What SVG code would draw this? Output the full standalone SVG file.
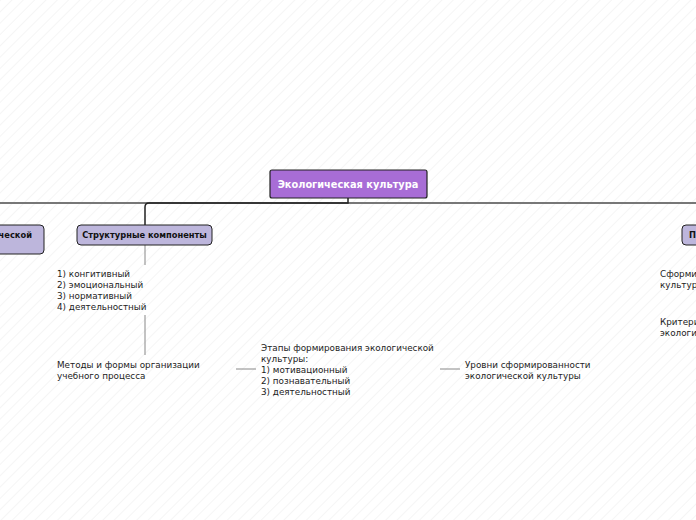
<svg xmlns="http://www.w3.org/2000/svg" width="696" height="520" viewBox="0 0 696 520">
<style>
.t{font-family:"DejaVu Sans",Verdana,sans-serif;font-size:8.8px;fill:#222}
.b{font-family:"DejaVu Sans",Verdana,sans-serif;font-size:8.3px;font-weight:bold;fill:#111}
.sub{fill:#bdb6dc;stroke:#222;stroke-width:1}
.c{stroke:#888;stroke-width:1;fill:none}
</style>
<defs>
<pattern id="h" width="8" height="8" patternUnits="userSpaceOnUse" patternTransform="rotate(45)">
<line x1="0" y1="0" x2="0" y2="8" stroke="#ececec" stroke-width="1"/>
</pattern>
</defs>
<rect width="696" height="520" fill="#fff"/>
<rect width="696" height="520" fill="url(#h)"/>
<g id="connectors">
<line x1="0" y1="203" x2="696" y2="203" stroke="#777" stroke-width="2"/>
<path d="M348 198 V203 H149 Q145 203 145 207 V225" stroke="#222" stroke-width="1.5" fill="none"/>
<line class="c" x1="145" y1="245" x2="145" y2="265"/>
<line class="c" x1="145" y1="315" x2="145" y2="355"/>
<line class="c" x1="236" y1="369" x2="256" y2="369"/>
<line class="c" x1="440" y1="369" x2="460" y2="369"/>
</g>
<g id="root">
<rect x="270" y="170" width="157" height="28" rx="2" fill="#a86dd6" stroke="#222" stroke-width="1.2"/>
<text x="348" y="188" text-anchor="middle" font-family="DejaVu Sans,Verdana,sans-serif" font-size="9.8" font-weight="bold" fill="#fff">Экологическая культура</text>
</g>
<g id="left"><rect class="sub" x="-20" y="225" width="64" height="29" rx="4"/><text class="b" x="32" y="238" text-anchor="end">ческой</text></g>
<g id="struct"><rect class="sub" x="77" y="225" width="135" height="20" rx="4"/><text class="b" x="144.5" y="238" text-anchor="middle">Структурные компоненты</text></g>
<g id="right"><rect class="sub" x="682" y="225" width="40" height="20" rx="4"/><text class="b" x="689" y="238">П</text></g>
<g id="comp"><text class="t" x="57" y="277"><tspan x="57">1) конгитивный</tspan><tspan x="57" dy="11">2) эмоциональный</tspan><tspan x="57" dy="11">3) нормативный</tspan><tspan x="57" dy="11">4) деятельностный</tspan></text></g>
<g id="methods"><text class="t" x="57" y="368"><tspan x="57">Методы и формы организации</tspan><tspan x="57" dy="11">учебного процесса</tspan></text></g>
<g id="stages"><text class="t" x="261" y="351"><tspan x="261">Этапы формирования экологической</tspan><tspan x="261" dy="11">культуры:</tspan><tspan x="261" dy="11">1) мотивационный</tspan><tspan x="261" dy="11">2) познавательный</tspan><tspan x="261" dy="11">3) деятельностный</tspan></text></g>
<g id="levels"><text class="t" x="465" y="368"><tspan x="465">Уровни сформированности</tspan><tspan x="465" dy="11">экологической культуры</tspan></text></g>
<g id="formed"><text class="t" x="660" y="277"><tspan x="660">Сформированность экологической</tspan><tspan x="660" dy="11">культуры</tspan></text></g>
<g id="criteria"><text class="t" x="660" y="325"><tspan x="660">Критерии сформированности</tspan><tspan x="660" dy="11">экологической культуры</tspan></text></g>
</svg>
